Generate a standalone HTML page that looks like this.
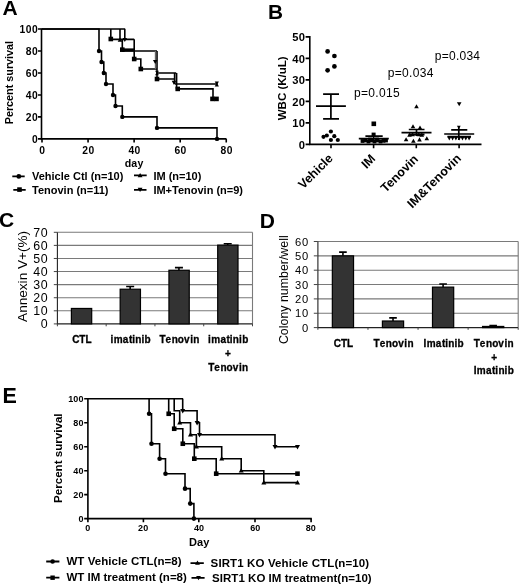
<!DOCTYPE html>
<html><head><meta charset="utf-8"><title>Figure</title>
<style>
html,body{margin:0;padding:0;background:#fff;width:520px;height:585px;overflow:hidden;}
svg{display:block;will-change:transform;}
text{font-family:"Liberation Sans", sans-serif;fill:#000;}
</style></head><body>
<svg width="520" height="585" viewBox="0 0 520 585">
<text x="2.4" y="14.8" font-size="21" font-weight="bold" text-anchor="start" >A</text>
<path d="M41.5 28.2V138.9H226.5" stroke="#000" stroke-width="1.6" fill="none"/>
<path d="M38 138.90H41.5M38 116.92H41.5M38 94.94H41.5M38 72.96H41.5M38 50.98H41.5M38 29.00H41.5M42.00 138.9V142.5M88.06 138.9V142.5M134.12 138.9V142.5M180.19 138.9V142.5M226.25 138.9V142.5" stroke="#000" stroke-width="1.6" fill="none"/>
<text x="31.97" y="143.1" font-size="10.3" font-weight="bold">0</text>
<text x="25.74 31.97" y="121.12" font-size="10.3" font-weight="bold">20</text>
<text x="25.74 31.97" y="99.14" font-size="10.3" font-weight="bold">40</text>
<text x="25.74 31.97" y="77.16" font-size="10.3" font-weight="bold">60</text>
<text x="25.74 31.97" y="55.18" font-size="10.3" font-weight="bold">80</text>
<text x="19.51 25.74 31.97" y="33.2" font-size="10.3" font-weight="bold">100</text>
<text x="39.34" y="153.5" font-size="10.3" font-weight="bold">0</text>
<text x="82.33 88.46" y="153.5" font-size="10.3" font-weight="bold">20</text>
<text x="128.39 134.52" y="153.5" font-size="10.3" font-weight="bold">40</text>
<text x="174.46 180.59" y="153.5" font-size="10.3" font-weight="bold">60</text>
<text x="220.52 226.65" y="153.5" font-size="10.3" font-weight="bold">80</text>
<text x="124.7" y="166.6" font-size="10.6" font-weight="bold" text-anchor="start"  textLength="18.6" lengthAdjust="spacing">day</text>
<text transform="translate(13.4,82.6) rotate(-90)" font-size="10.8" font-weight="bold" text-anchor="middle">Percent survival</text>
<path d="M42 29.00H99V50.98H101.5V61.97H103.8V72.96H106V83.95H113V94.94H115.5V105.93H122.3V116.92H157V127.91H217V138.90" stroke="#000" stroke-width="1.6" fill="none"/>
<path d="M42 29.0H125.2M110.8 29.0V39.0M120 29.0V39.99M124.8 29.0V39.99M110.8 39.33H134.2M122.3 39.0V50.98M122.3 50.98H157M134.2 39.33V59.0H140.8V69.0H157.3M157 50.98V79.0M157 72.96H176.2M157 79.0H174.6M174.6 72.96V83.95M176.6 72.96V88.9M175 83.95H217.7M176.6 88.9H213V98.9H218" stroke="#000" stroke-width="1.6" fill="none"/>
<path d="M155.5 50.98V69.0" stroke="#666" stroke-width="1.4" fill="none"/>
<path d="M122.3 49.99H134.2" stroke="#000" stroke-width="3.2" fill="none"/>
<g fill="#000"><circle cx="99" cy="50.98" r="2.2"/><circle cx="101.5" cy="61.97" r="2.2"/><circle cx="103.8" cy="72.96" r="2.2"/><circle cx="106" cy="83.95" r="2.2"/><circle cx="113" cy="94.94" r="2.2"/><circle cx="115.5" cy="105.93" r="2.2"/><circle cx="122.3" cy="116.92" r="2.2"/><circle cx="157" cy="127.91" r="2.2"/><circle cx="217" cy="138.9" r="2.2"/><rect x="108.50" y="36.70" width="4.6" height="4.6"/><rect x="120.00" y="47.36" width="4.6" height="4.6"/><rect x="131.90" y="56.70" width="4.6" height="4.6"/><rect x="138.50" y="66.70" width="4.6" height="4.6"/><rect x="154.70" y="76.70" width="4.6" height="4.6"/><rect x="175.40" y="86.60" width="4.6" height="4.6"/><rect x="210.20" y="96.60" width="4.6" height="4.6"/><rect x="214.20" y="96.60" width="4.6" height="4.6"/><path d="M152.90 59.90L155.20 64.04L157.50 59.90Z"/><path d="M171.70 80.78L174.00 84.92L176.30 80.78Z"/><path d="M214.70 81.51L216.80 85.29L218.90 81.51Z"/><path d="M214.70 86.39L216.80 82.61L218.90 86.39Z"/><path d="M155.10 70.70L157.00 74.12L158.90 70.70Z"/><path d="M155.10 75.22L157.00 71.80L158.90 75.22Z"/><path d="M117.70 41.73L120.00 37.59L122.30 41.73Z"/><path d="M122.50 37.92L124.80 42.06L127.10 37.92Z"/></g>
<path d="M12.3 176.4H24.7M13.3 189.8H25.7M134 175.4H146.7M134 189.8H146.5" stroke="#000" stroke-width="1.7" fill="none"/>
<g fill="#000"><circle cx="18.8" cy="176.4" r="2.4"/><rect x="17.20" y="187.30" width="4.6" height="4.6"/><path d="M137.70 177.36L140.10 173.04L142.50 177.36Z"/><path d="M137.70 187.74L140.10 192.06L142.50 187.74Z"/></g>
<text x="32" y="180.2" font-size="11" font-weight="bold" text-anchor="start" >Vehicle Ctl (n=10)</text>
<text x="32" y="193.7" font-size="11" font-weight="bold" text-anchor="start" >Tenovin (n=11)</text>
<text x="153.4" y="179.6" font-size="11" font-weight="bold" text-anchor="start" >IM (n=10)</text>
<text x="153.4" y="193.8" font-size="11" font-weight="bold" text-anchor="start" >IM+Tenovin (n=9)</text>
<text x="268.0" y="18.8" font-size="20.8" font-weight="bold" text-anchor="start" >B</text>
<path d="M309.8 36.1V144.4H481.5" stroke="#000" stroke-width="1.6" fill="none"/>
<path d="M305.6 144.40H309.8M305.6 122.90H309.8M305.6 101.40H309.8M305.6 79.90H309.8M305.6 58.40H309.8M305.6 36.90H309.8M331 144.4V148.3M373.6 144.4V148.3M416.3 144.4V148.3M459.1 144.4V148.3" stroke="#000" stroke-width="1.6" fill="none"/>
<text x="298.77" y="148.5" font-size="11.2" font-weight="bold">0</text>
<text x="292.24 298.77" y="127.0" font-size="11.2" font-weight="bold">10</text>
<text x="292.24 298.77" y="105.5" font-size="11.2" font-weight="bold">20</text>
<text x="292.24 298.77" y="84.0" font-size="11.2" font-weight="bold">30</text>
<text x="292.24 298.77" y="62.5" font-size="11.2" font-weight="bold">40</text>
<text x="292.24 298.77" y="41.0" font-size="11.2" font-weight="bold">50</text>
<text transform="translate(286.1,88.3) rotate(-90)" font-size="11.5" font-weight="bold" text-anchor="middle">WBC (K/uL)</text>
<text x="354.0" y="96.6" font-size="12" font-weight="normal" text-anchor="start"  textLength="45.6" lengthAdjust="spacing">p=0.015</text>
<text x="387.8" y="77.4" font-size="12" font-weight="normal" text-anchor="start"  textLength="45.6" lengthAdjust="spacing">p=0.034</text>
<text x="434.8" y="59.7" font-size="12" font-weight="normal" text-anchor="start"  textLength="45.2" lengthAdjust="spacing">p=0.034</text>
<text transform="translate(333.7,159) rotate(-45)" font-size="12.5" font-weight="bold" text-anchor="end">Vehicle</text>
<text transform="translate(376.2,159.5) rotate(-45)" font-size="12.5" font-weight="bold" text-anchor="end">IM</text>
<text transform="translate(419,159.8) rotate(-45)" font-size="12.5" font-weight="bold" text-anchor="end">Tenovin</text>
<text transform="translate(461.8,159.2) rotate(-45)" font-size="12.5" font-weight="bold" text-anchor="end">IM&amp;Tenovin</text>
<path d="M316 106.2H345.9M323.1 94.2H339M323.1 118.8H339M330.9 94.2V118.8M358.8 138.6H388.8M365.4 136.2H382.7M373.6 134V141M401.5 132.6H431.5M408.8 129.5H424.5M408.8 134.6H424.5M416.5 129.5V136M444.2 134H474.2M451.2 129.9H467.3M447.5 136.6H471M458.8 127V140" stroke="#000" stroke-width="1.7" fill="none"/>
<g fill="#000"><circle cx="327.6" cy="51.4" r="2.35"/><circle cx="334.4" cy="56" r="2.35"/><circle cx="334.4" cy="66.4" r="2.35"/><circle cx="327.6" cy="70.3" r="2.35"/><circle cx="323.5" cy="136.8" r="2.1"/><circle cx="326.8" cy="135.5" r="2.1"/><circle cx="330.9" cy="131.5" r="2.1"/><circle cx="334.3" cy="136.2" r="2.1"/><circle cx="330.9" cy="140" r="2.1"/><circle cx="337.8" cy="140" r="2.1"/><rect x="371.50" y="121.50" width="4.6" height="4.6"/><rect x="371.60" y="132.60" width="4" height="4"/><rect x="360.60" y="139.10" width="3.8" height="3.8"/><rect x="363.60" y="138.60" width="3.8" height="3.8"/><rect x="366.60" y="139.60" width="3.8" height="3.8"/><rect x="369.60" y="138.60" width="3.8" height="3.8"/><rect x="372.60" y="139.60" width="3.8" height="3.8"/><rect x="375.60" y="138.60" width="3.8" height="3.8"/><rect x="378.60" y="139.60" width="3.8" height="3.8"/><rect x="381.60" y="138.90" width="3.8" height="3.8"/><rect x="384.10" y="138.60" width="3.8" height="3.8"/><rect x="368.10" y="137.60" width="3.8" height="3.8"/><rect x="375.10" y="137.60" width="3.8" height="3.8"/><path d="M414.20 108.27L416.50 104.13L418.80 108.27Z"/><path d="M410.70 128.37L413.00 124.23L415.30 128.37Z"/><path d="M417.70 129.57L420.00 125.43L422.30 129.57Z"/><path d="M407.20 136.67L409.50 132.53L411.80 136.67Z"/><path d="M410.30 136.37L412.60 132.23L414.90 136.37Z"/><path d="M416.50 136.37L418.80 132.23L421.10 136.37Z"/><path d="M419.50 136.67L421.80 132.53L424.10 136.67Z"/><path d="M403.80 141.27L406.10 137.13L408.40 141.27Z"/><path d="M411.10 142.77L413.40 138.63L415.70 142.77Z"/><path d="M417.20 141.47L419.50 137.33L421.80 141.47Z"/><path d="M424.50 140.27L426.80 136.13L429.10 140.27Z"/><path d="M456.90 102.23L459.20 106.37L461.50 102.23Z"/><path d="M456.90 125.69L458.80 129.11L460.70 125.69Z"/><path d="M447.20 136.61L449.30 140.39L451.40 136.61Z"/><path d="M450.50 136.61L452.60 140.39L454.70 136.61Z"/><path d="M453.80 136.61L455.90 140.39L458.00 136.61Z"/><path d="M457.10 136.61L459.20 140.39L461.30 136.61Z"/><path d="M460.40 136.61L462.50 140.39L464.60 136.61Z"/><path d="M463.70 136.61L465.80 140.39L467.90 136.61Z"/><path d="M467.00 136.61L469.10 140.39L471.20 136.61Z"/></g>
<text x="-1.1" y="227.0" font-size="21" font-weight="bold" text-anchor="start" >C</text>
<path d="M57.4 310.81H252.5M57.4 297.73H252.5M57.4 284.64H252.5M57.4 271.56H252.5M57.4 258.47H252.5M57.4 245.39H252.5M57.4 232.30H252.5" stroke="#7a7a7a" stroke-width="1.1" fill="none"/>
<path d="M252.5 232.3V323.9" stroke="#7a7a7a" stroke-width="1.1" fill="none"/>
<path d="M57.4 232.3V323.9H252.5" stroke="#222" stroke-width="1.1" fill="none"/>
<path d="M53.8 323.90H57.4M53.8 310.81H57.4M53.8 297.73H57.4M53.8 284.64H57.4M53.8 271.56H57.4M53.8 258.47H57.4M53.8 245.39H57.4M53.8 232.30H57.4M57.40 323.9V326.3M106.17 323.9V326.3M154.95 323.9V326.3M203.72 323.9V326.3M252.50 323.9V326.3" stroke="#444" stroke-width="1" fill="none"/>
<text x="40.8" y="328.4" font-size="12.4" font-weight="normal">0</text>
<text x="33.21 40.8" y="315.31" font-size="12.4" font-weight="normal">10</text>
<text x="33.21 40.8" y="302.23" font-size="12.4" font-weight="normal">20</text>
<text x="33.21 40.8" y="289.14" font-size="12.4" font-weight="normal">30</text>
<text x="33.21 40.8" y="276.06" font-size="12.4" font-weight="normal">40</text>
<text x="33.21 40.8" y="262.97" font-size="12.4" font-weight="normal">50</text>
<text x="33.21 40.8" y="249.89" font-size="12.4" font-weight="normal">60</text>
<text x="33.21 40.8" y="236.8" font-size="12.4" font-weight="normal">70</text>
<text transform="translate(27.3,276.4) rotate(-90)" font-size="13.6" font-weight="normal" text-anchor="middle">Annexin V+(%)</text>
<g fill="#333" stroke="#000" stroke-width="1.2"><rect x="71.39" y="308.46" width="20.3" height="15.44"/><rect x="120.16" y="289.22" width="20.3" height="34.68"/><rect x="168.94" y="270.25" width="20.3" height="53.65"/><rect x="217.71" y="245.12" width="20.3" height="78.78"/></g>
<path d="M130.16 286.47V289.22M126.16 286.47H134.16M178.94 267.63V270.25M174.94 267.63H182.94M227.71 243.68V245.12M223.71 243.68H231.71" stroke="#000" stroke-width="1.6" fill="none"/>
<text x="72.14 79.29 85.44" y="342.7" font-size="10" font-weight="bold" stroke="#000" stroke-width="0.3">CTL</text>
<text x="110.53 113.69 122.84 128.99 132.14 135.29 141.44 144.59" y="342.7" font-size="10" font-weight="bold" stroke="#000" stroke-width="0.3">imatinib</text>
<text x="159.39 165.54 171.69 177.84 183.99 190.14 193.29" y="342.7" font-size="10" font-weight="bold" stroke="#000" stroke-width="0.3">Tenovin</text>
<text x="208.09 211.24 220.39 226.54 229.69 232.84 238.99 242.14" y="342.7" font-size="10" font-weight="bold" stroke="#000" stroke-width="0.3">imatinib</text>
<text x="225.11" y="356.8" font-size="10" font-weight="bold" stroke="#000" stroke-width="0.3">+</text>
<text x="208.16 214.31 220.46 226.61 232.76 238.91 242.06" y="370.6" font-size="10" font-weight="bold" stroke="#000" stroke-width="0.3">Tenovin</text>
<text x="259.8" y="228.1" font-size="21" font-weight="bold" text-anchor="start" >D</text>
<path d="M317.9 313.25H518.2M317.9 298.90H518.2M317.9 284.55H518.2M317.9 270.20H518.2M317.9 255.85H518.2M317.9 241.50H518.2" stroke="#7a7a7a" stroke-width="1.1" fill="none"/>
<path d="M518.2 241.5V327.6" stroke="#7a7a7a" stroke-width="1.1" fill="none"/>
<path d="M317.9 241.5V327.6H518.2" stroke="#222" stroke-width="1.1" fill="none"/>
<path d="M313.8 327.60H317.9M313.8 313.25H317.9M313.8 298.90H317.9M313.8 284.55H317.9M313.8 270.20H317.9M313.8 255.85H317.9M313.8 241.50H317.9M317.90 327.6V329.8M367.98 327.6V329.8M418.05 327.6V329.8M468.12 327.6V329.8M518.20 327.6V329.8" stroke="#444" stroke-width="1" fill="none"/>
<text x="301.97" y="331.6" font-size="11.2" font-weight="normal">0</text>
<text x="295.04 301.97" y="317.25" font-size="11.2" font-weight="normal">10</text>
<text x="295.04 301.97" y="302.9" font-size="11.2" font-weight="normal">20</text>
<text x="295.04 301.97" y="288.55" font-size="11.2" font-weight="normal">30</text>
<text x="295.04 301.97" y="274.2" font-size="11.2" font-weight="normal">40</text>
<text x="295.04 301.97" y="259.85" font-size="11.2" font-weight="normal">50</text>
<text x="295.04 301.97" y="245.5" font-size="11.2" font-weight="normal">60</text>
<text transform="translate(287.5,289.7) rotate(-90)" font-size="12.4" font-weight="normal" text-anchor="middle">Colony number/well</text>
<g fill="#333" stroke="#000" stroke-width="1.2"><rect x="332.34" y="255.85" width="21.2" height="71.75"/><rect x="382.41" y="321.00" width="21.2" height="6.60"/><rect x="432.49" y="287.13" width="21.2" height="40.47"/><rect x="482.56" y="326.45" width="21.2" height="1.15"/></g>
<path d="M342.94 252.12V255.85M339.14 252.12H346.74M393.01 317.84V321.00M389.21 317.84H396.81M443.09 283.98V287.13M439.29 283.98H446.89M493.16 325.59V326.45M489.36 325.59H496.96" stroke="#000" stroke-width="1.6" fill="none"/>
<text x="333.79 340.94 347.09" y="346.5" font-size="10" font-weight="bold" stroke="#000" stroke-width="0.3">CTL</text>
<text x="373.56 379.71 385.86 392.01 398.16 404.31 407.46" y="346.5" font-size="10" font-weight="bold" stroke="#000" stroke-width="0.3">Tenovin</text>
<text x="423.56 426.71 435.86 442.01 445.16 448.31 454.46 457.61" y="346.5" font-size="10" font-weight="bold" stroke="#000" stroke-width="0.3">Imatinib</text>
<text x="473.71 479.86 486.01 492.16 498.31 504.46 507.61" y="346.5" font-size="10" font-weight="bold" stroke="#000" stroke-width="0.3">Tenovin</text>
<text x="491.16" y="361.0" font-size="10" font-weight="bold" stroke="#000" stroke-width="0.3">+</text>
<text x="473.64 476.79 485.94 492.08 495.23 498.38 504.53 507.68" y="374.1" font-size="10" font-weight="bold" stroke="#000" stroke-width="0.3">Imatinib</text>
<text x="2.6" y="403.4" font-size="21.5" font-weight="bold" text-anchor="start" >E</text>
<path d="M87.9 398.0V518.6H311.8" stroke="#000" stroke-width="1.6" fill="none"/>
<path d="M84.2 518.60H87.9M84.2 494.64H87.9M84.2 470.68H87.9M84.2 446.72H87.9M84.2 422.76H87.9M84.2 398.80H87.9M87.9 518.6V522.3M143.4 518.6V522.3M198.8 518.6V522.3M255.0 518.6V522.3M311.1 518.6V522.3" stroke="#000" stroke-width="1.6" fill="none"/>
<text x="78.39" y="521.8" font-size="9" font-weight="bold">0</text>
<text x="73.29 78.39" y="497.84" font-size="9" font-weight="bold">20</text>
<text x="73.29 78.39" y="473.88" font-size="9" font-weight="bold">40</text>
<text x="73.29 78.39" y="449.92" font-size="9" font-weight="bold">60</text>
<text x="73.29 78.39" y="425.96" font-size="9" font-weight="bold">80</text>
<text x="68.18 73.29 78.39" y="402.0" font-size="9" font-weight="bold">100</text>
<text x="85.25" y="531.4" font-size="9" font-weight="bold">0</text>
<text x="138.09 143.2" y="531.4" font-size="9" font-weight="bold">20</text>
<text x="193.94 199.05" y="531.4" font-size="9" font-weight="bold">40</text>
<text x="250.14 255.25" y="531.4" font-size="9" font-weight="bold">60</text>
<text x="305.64 310.75" y="531.4" font-size="9" font-weight="bold">80</text>
<text x="199.2" y="546.4" font-size="11" font-weight="bold" text-anchor="middle" >Day</text>
<text transform="translate(61.8,458.2) rotate(-90)" font-size="11.6" font-weight="bold" text-anchor="middle">Percent survival</text>
<path d="M87.9 398.8H149.1V413.77H151.5V443.73H159.6V458.7H165.5V473.68H185V488.65H190.2V503.62H193.9V518.6M168.7 398.8V413.77H174.2V428.75H182.8V443.73H194.3V458.7H216.2V473.68H297.5M87.9 398.8H183.1M174.2 398.8V410.78H179.7V422.76H190.5V434.74H196.4V446.72H221.7V458.7H241.2V470.68H263.8V482.66H297.5M182.7 398.8V410.78H197.1V422.76H199.5V434.74H275V446.72H297.5" stroke="#000" stroke-width="1.6" fill="none"/>
<g fill="#000"><circle cx="149.1" cy="413.77" r="2.3"/><circle cx="151.5" cy="443.73" r="2.3"/><circle cx="159.6" cy="458.7" r="2.3"/><circle cx="165.5" cy="473.68" r="2.3"/><circle cx="185" cy="488.65" r="2.3"/><circle cx="190.2" cy="503.62" r="2.3"/><circle cx="193.9" cy="518.6" r="2.3"/><rect x="166.40" y="411.47" width="4.6" height="4.6"/><rect x="171.90" y="426.45" width="4.6" height="4.6"/><rect x="180.50" y="441.43" width="4.6" height="4.6"/><rect x="192.00" y="456.40" width="4.6" height="4.6"/><rect x="213.90" y="471.38" width="4.6" height="4.6"/><rect x="295.20" y="471.38" width="4.6" height="4.6"/><path d="M177.20 424.51L179.70 420.01L182.20 424.51Z"/><path d="M188.00 436.49L190.50 431.99L193.00 436.49Z"/><path d="M193.90 448.47L196.40 443.97L198.90 448.47Z"/><path d="M219.20 460.45L221.70 455.95L224.20 460.45Z"/><path d="M238.70 472.43L241.20 467.93L243.70 472.43Z"/><path d="M261.30 484.41L263.80 479.91L266.30 484.41Z"/><path d="M295.00 484.41L297.50 479.91L300.00 484.41Z"/><path d="M180.20 409.03L182.70 413.53L185.20 409.03Z"/><path d="M194.60 421.01L197.10 425.51L199.60 421.01Z"/><path d="M197.00 432.99L199.50 437.49L202.00 432.99Z"/><path d="M272.50 444.97L275.00 449.47L277.50 444.97Z"/><path d="M295.00 444.97L297.50 449.47L300.00 444.97Z"/></g>
<path d="M46.2 561.5H59.4M46.2 577.7H59.4M190.5 563.1H203.8M191.5 577.9H204.6" stroke="#000" stroke-width="1.8" fill="none"/>
<g fill="#000"><circle cx="52.6" cy="561.5" r="2.3"/><rect x="50.40" y="575.50" width="4.4" height="4.4"/><path d="M195.10 564.76L197.50 560.44L199.90 564.76Z"/><path d="M196.10 576.04L198.50 580.36L200.90 576.04Z"/></g>
<text x="66.4" y="565.4" font-size="11.5" font-weight="bold" text-anchor="start"  textLength="115.2" lengthAdjust="spacing">WT Vehicle CTL(n=8)</text>
<text x="66.4" y="580.8" font-size="11.5" font-weight="bold" text-anchor="start" >WT IM treatment (n=8)</text>
<text x="210.6" y="566.9" font-size="11.5" font-weight="bold" text-anchor="start"  textLength="158.6" lengthAdjust="spacing">SIRT1 KO Vehicle CTL(n=10)</text>
<text x="212.1" y="581.5" font-size="11.5" font-weight="bold" text-anchor="start"  textLength="159.6" lengthAdjust="spacing">SIRT1 KO IM treatment(n=10)</text>
</svg>
</body></html>
